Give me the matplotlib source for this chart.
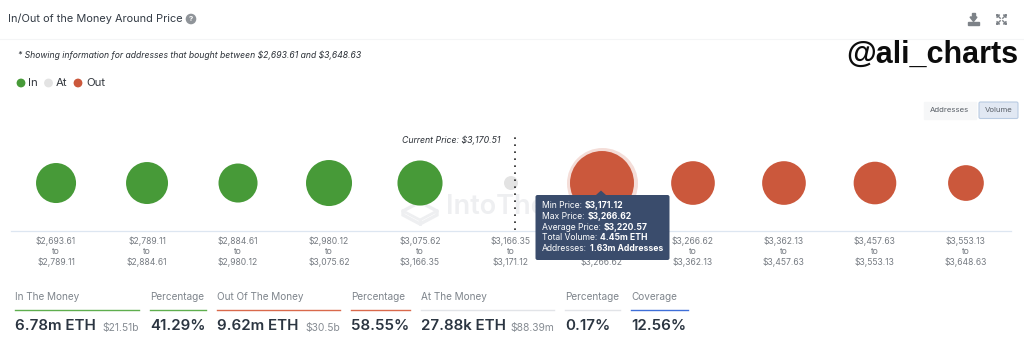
import matplotlib
matplotlib.use("Agg")
import matplotlib.pyplot as plt
from matplotlib.patches import Circle, FancyBboxPatch, Polygon, Rectangle

# bands, volume in million ETH (only 4.45 is printed)
price_edges = ["$2,693.61", "$2,789.11", "$2,884.61", "$2,980.12", "$3,075.62", "$3,166.35",
               "$3,171.12", "$3,266.62", "$3,362.13", "$3,457.63", "$3,553.13", "$3,648.63"]
volumes = [1.15, 1.32, 1.07, 1.72, 1.62, 0.028, 4.45, 1.48, 1.48, 1.38, 0.83]
states = ["in", "in", "in", "in", "in", "at", "out", "out", "out", "out", "out"]
colors = {"in": "#479a38", "at": "#e3e3e3", "out": "#cb583c"}
selected = 6

tooltip_rows = [("Min Price:", "$3,171.12"),
                ("Max Price:", "$3,266.62"),
                ("Average Price:", "$3,220.57"),
                ("Total Volume:", "4.45m ETH"),
                ("Addresses:", "1.63m Addresses")]

# x0, x1, label, value, small value, line colour
summary = [(15, 139, "In The Money", "6.78m ETH", "$21.51b", "#5fae4e"),
           (150, 206, "Percentage", "41.29%", "", "#5fae4e"),
           (217, 340, "Out Of The Money", "9.62m ETH", "$30.5b", "#d9694c"),
           (351, 410, "Percentage", "58.55%", "", "#d9694c"),
           (421, 554, "At The Money", "27.88k ETH", "$88.39m", "#e2e4e8"),
           (565, 620, "Percentage", "0.17%", "", "#e2e4e8"),
           (631, 688, "Coverage", "12.56%", "", "#3f6fd8")]

W, H = 1024, 354
plt.rcParams['font.family'] = ['Inter', 'DejaVu Sans']


def px_axes(fig, z):
    a = fig.add_axes([0, 0, 1, 1], zorder=z)
    a.set_xlim(0, W)
    a.set_ylim(H, 0)
    a.axis("off")
    a.patch.set_alpha(0)
    return a


def bubble_diameter(v):
    return max(14, 64 * (v / 4.45) ** 0.347)


def draw_header(bg):
    bg.text(8, 19, "In/Out of the Money Around Price", fontsize=7.9, color="#333b45", va="center")
    bg.add_patch(Circle((191, 19), 4.6, color="#8f9499"))
    bg.text(191, 19.2, "?", fontsize=5.5, color="white", ha="center", va="center", fontweight="bold")
    bg.plot([0, W], [39, 39], color="#f4f5f6", lw=0.8)
    # download and expand icons
    bg.add_patch(Rectangle((968, 21.5), 11, 3, color="#7d8288"))
    bg.add_patch(Polygon([[970, 17], [977, 17], [973.5, 21.5]], color="#7d8288"))
    bg.add_patch(Rectangle((972.3, 13), 2.4, 5, color="#7d8288"))
    for x, y, dx, dy in [(997, 15, 1, 1), (1006, 15, -1, 1), (997, 24, 1, -1), (1006, 24, -1, -1)]:
        bg.plot([x, x + 3.2 * dx], [y, y + 3.2 * dy], color="#7d8288", lw=1)
        bg.plot([x, x + 2.5 * dx, x, x], [y, y, y + 2.5 * dy, y], color="#7d8288", lw=0.9)

    bg.text(18, 55.5, "* Showing information for addresses that bought between $2,693.61 and $3,648.63",
            fontsize=6.2, style="italic", color="#2c3138", va="center", parse_math=False)
    bg.text(846, 55, "@ali_charts", fontsize=22, fontweight="bold", family="Liberation Sans",
            color="#0c0c0c", va="center")

    for x, c, tx, label in [(21, colors["in"], 28, "In"), (48.5, colors["at"], 56, "At"),
                            (78, colors["out"], 86, "Out")]:
        bg.add_patch(Circle((x, 83), 3.7, color=c))
        bg.text(tx, 83, label, fontsize=8.2, color="#33383f", va="center")

    # Addresses / Volume switch
    bg.add_patch(Rectangle((924, 102), 52, 16.5, color="#f6f7f8"))
    bg.text(949.5, 110, "Addresses", fontsize=5.6, color="#5a6068", ha="center", va="center")
    bg.add_patch(FancyBboxPatch((979, 102), 39, 16.5, boxstyle="round,pad=0,rounding_size=1.5",
                                fc="#e1e8f3", ec="#b9cbe2", lw=0.8))
    bg.text(998.5, 110, "Volume", fontsize=5.6, color="#5a6068", ha="center", va="center")


def draw_watermark(bg):
    # the tooltip hides the rest of the word in the reference
    bg.text(446, 206.5, "IntoThe", fontsize=19.5, fontweight="semibold", color="#eeeff1", va="center")
    bg.add_patch(Polygon([[420, 202], [437, 211], [437, 215], [420, 224], [403, 215], [403, 211]],
                         fc="none", ec="#eeeff1", lw=2.4))
    bg.plot([403, 420, 437], [211, 220, 211], color="#eeeff1", lw=2)
    bg.plot([420, 420], [220, 224], color="#eeeff1", lw=2)


def draw_bubbles(fig):
    # axes box runs along the baseline, each band is 91 px wide
    ax = fig.add_axes([11 / W, 1 - 231 / H, 1000 / W, 101 / H], zorder=1)
    ax.patch.set_alpha(0)
    ax.set_xlim(-0.495, 10.495)
    ax.set_ylim(0, 1)
    x = list(range(len(volumes)))
    y = [0.475] * len(volumes)
    sizes = [(bubble_diameter(v) * 0.72) ** 2 for v in volumes]
    ax.scatter(x[selected], y[selected], s=(71 * 0.72) ** 2, color=colors["out"], alpha=0.2, lw=0, zorder=2)
    ax.scatter(x, y, s=sizes, c=[colors[s] for s in states], lw=0, zorder=3)
    ax.plot([5.04, 5.04], [0.01, 0.95], color="#222222", lw=1.2, linestyle=(0, (1, 3.2)), zorder=4)
    ax.text(4.885, 0.9, "Current Price: $3,170.51", fontsize=6.3, style="italic", color="#2c3138",
            ha="right", va="center", parse_math=False)

    labels = [a.replace("$", r"\$") + "\nto\n" + b.replace("$", r"\$")
              for a, b in zip(price_edges[:-1], price_edges[1:])]
    ax.set_xticks(x)
    ax.set_xticklabels(labels, fontsize=6.2, color="#777c83", linespacing=1.18)
    ax.tick_params(axis="x", length=0, pad=4)
    ax.set_yticks([])
    for side in ["top", "left", "right"]:
        ax.spines[side].set_visible(False)
    ax.spines["bottom"].set_color("#dde6f1")
    ax.spines["bottom"].set_linewidth(0.9)


def draw_tooltip(top):
    top.add_patch(FancyBboxPatch((535.5, 195), 134, 65, boxstyle="round,pad=0,rounding_size=2",
                                 fc="#3a4c6c", ec="none"))
    top.add_patch(Polygon([[596, 195], [606, 195], [601, 190.5]], fc="#3a4c6c", ec="none"))
    r = top.figure.canvas.get_renderer()
    for i, (name, val) in enumerate(tooltip_rows):
        y = 205.5 + i * 10.75
        t = top.text(541.5, y, name, fontsize=6.2, color="white", va="center", parse_math=False)
        w = t.get_window_extent(r).width
        top.text(541.5 + w + 3, y, val, fontsize=6.2, color="white", fontweight="bold", va="center",
                 parse_math=False)


def draw_summary(bg):
    for x0, x1, label, value, small, c in summary:
        bg.text(x0, 297, label, fontsize=7.2, color="#7f858c", va="center")
        bg.plot([x0, x1], [309.5, 309.5], color=c, lw=1)
        bg.text(x0, 326.5, value, fontsize=10.9, color="#2b3541", va="center", fontweight="semibold")
        if small:
            bg.text(x1, 327.5, small, fontsize=7.4, color="#868c93", ha="right", va="center", parse_math=False)


def main():
    fig = plt.figure(figsize=(W / 100, H / 100), dpi=100, facecolor="white")
    bg = px_axes(fig, 0)
    top = px_axes(fig, 2)
    draw_header(bg)
    draw_watermark(bg)
    draw_bubbles(fig)
    draw_tooltip(top)
    draw_summary(bg)
    fig.savefig("out.png", dpi=100)


if __name__ == '__main__':
    main()
